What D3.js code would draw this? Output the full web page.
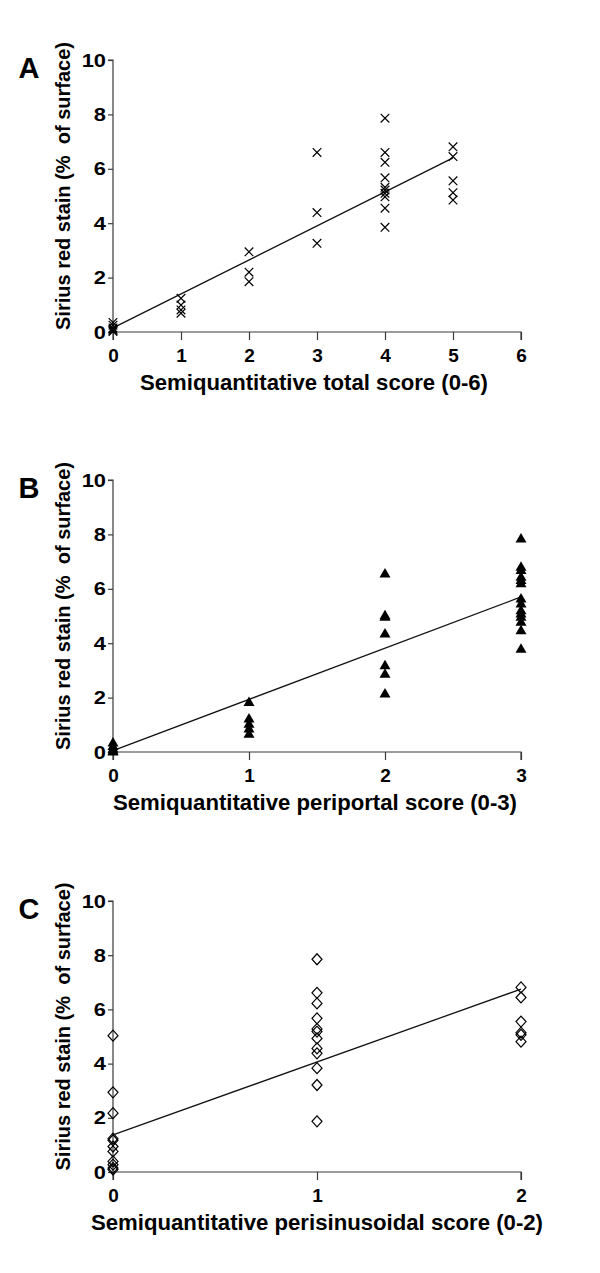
<!DOCTYPE html>
<html>
<head>
<meta charset="utf-8">
<script src="https://cdn.jsdelivr.net/npm/d3@7"></script>
<style>
  html, body { margin: 0; padding: 0; background: #fff; }
  svg { display: block; }
  text { font-family: "Liberation Sans", Arial, sans-serif; font-weight: bold; fill: #000; }
</style>
</head>
<body>
<svg id="chart" width="600" height="1273"></svg>
<script>
// ---------- DATA ----------
const yTicks = [0, 2, 4, 6, 8, 10];
const yTitle = "Sirius red stain (%\u00a0 of surface)";

// Panel A: total score
const aX = [0,0,0,0,0,0, 1,1,1,1, 2,2,2, 3,3,3, 4,4,4,4,4,4,4,4,4,4, 5,5,5,5,5];
const aY = [0.35,0.25,0.15,0.1,0.05,0.02, 1.24,0.99,0.81,0.69, 2.95,2.2,1.85, 6.6,4.39,3.26,
            7.86,6.6,6.24,5.67,5.32,5.22,5.1,4.97,4.55,3.85, 6.81,6.45,5.56,5.12,4.85];
const aTicks = [0,1,2,3,4,5,6];
const aLine = [[0, 0.15], [5, 6.4]];

// Panel B: periportal score
const bX = [0,0,0,0,0, 1,1,1,1,1, 2,2,2,2,2,2,2, 3,3,3,3,3,3,3,3,3,3,3,3,3,3];
const bY = [0.35,0.22,0.12,0.05,0.02, 1.84,1.23,1.04,0.86,0.67,
            6.56,5.03,4.97,4.36,3.19,2.88,2.15,
            7.85,6.81,6.69,6.44,6.32,6.2,5.64,5.46,5.21,5.09,4.97,4.79,4.48,3.8];
const bTicks = [0,1,2,3];
const bLine = [[0, 0.05], [3, 5.7]];

// Panel C: perisinusoidal score
const cX = [0,0,0,0,0,0,0,0,0,0,0, 1,1,1,1,1,1,1,1,1,1,1,1, 2,2,2,2,2,2];
const cY = [5.03,2.94,2.17,1.23,1.17,0.94,0.76,0.39,0.27,0.15,0.09,
            7.85,6.61,6.22,5.67,5.28,5.18,4.93,4.56,4.38,3.83,3.21,1.87,
            6.81,6.44,5.55,5.14,5.06,4.81];
const cTicks = [0,1,2];
const cLine = [[0, 1.37], [2, 6.75]];

// ---------- LAYOUT ----------
const panels = [
  {letter:"A", xs:aX, ys:aY, ticks:aTicks, line:aLine, xmax:6, marker:"x",
   title:"Semiquantitative total score (0-6)", tlen:348, tcx:314, top:60, bottom:332},
  {letter:"B", xs:bX, ys:bY, ticks:bTicks, line:bLine, xmax:3, marker:"tri",
   title:"Semiquantitative periportal score (0-3)", tlen:404, tcx:315, top:480, bottom:752},
  {letter:"C", xs:cX, ys:cY, ticks:cTicks, line:cLine, xmax:2, marker:"dia",
   title:"Semiquantitative perisinusoidal score (0-2)", tlen:452, tcx:317, top:901, bottom:1172}
];
const left = 113, right = 521;
const svg = d3.select("#chart");
const sx = 1.15;

panels.forEach(p => {
  const g = svg.append("g");
  const x = d3.scaleLinear().domain([0, p.xmax]).range([left, right]);
  const y = d3.scaleLinear().domain([0, 10]).range([p.bottom, p.top]);

  // y axis
  const ya = g.append("g").attr("transform", `translate(${left},0)`)
    .call(d3.axisLeft(y).tickValues(yTicks).tickFormat(d3.format("d")).tickSize(5).tickPadding(2));
  // x axis
  const xa = g.append("g").attr("transform", `translate(0,${p.bottom})`)
    .call(d3.axisBottom(x).tickValues(p.ticks).tickFormat(d3.format("d")).tickSize(8).tickPadding(9));
  [ya, xa].forEach(a => {
    a.select(".domain").attr("stroke", "#3a3a3a").attr("stroke-width", 1.2);
    a.selectAll(".tick line").attr("stroke", "#3a3a3a").attr("stroke-width", 1.2);
    a.selectAll(".tick text").style("font-family", '"Liberation Sans", Arial, sans-serif')
      .style("font-weight", "bold").style("font-size", "19px").attr("fill", "#000");
  });
  ya.selectAll(".tick text").attr("x", -7 / sx).attr("transform", `scale(${sx},1)`);
  ya.select(".domain").attr("d", `M-5,${p.top}H0V${p.bottom}`);
  xa.select(".domain").attr("d", `M${left},8V0H${right}V8`);

  // regression line
  g.append("path")
    .attr("d", d3.line().x(d => x(d[0])).y(d => y(d[1]))(p.line))
    .attr("fill", "none").attr("stroke", "#111").attr("stroke-width", 1.3);

  // markers
  const pts = p.xs.map((v, i) => [v, p.ys[i]]);
  const mg = g.append("g");
  if (p.marker === "x") {
    const s = 4.3;
    mg.selectAll("path").data(pts).join("path")
      .attr("d", d => { const cx = x(d[0]), cy = y(d[1]);
        return `M${cx-s},${cy-s}L${cx+s},${cy+s}M${cx-s},${cy+s}L${cx+s},${cy-s}`; })
      .attr("stroke", "#000").attr("stroke-width", 1.2).attr("fill", "none");
  } else if (p.marker === "tri") {
    mg.selectAll("path").data(pts).join("path")
      .attr("d", d => { const cx = x(d[0]), cy = y(d[1]);
        return `M${cx},${cy-5.5}L${cx+5.5},${cy+4}L${cx-5.5},${cy+4}Z`; })
      .attr("fill", "#000");
  } else {
    mg.selectAll("path").data(pts).join("path")
      .attr("d", d => { const cx = x(d[0]), cy = y(d[1]);
        return `M${cx},${cy-5.5}L${cx+5},${cy}L${cx},${cy+5.5}L${cx-5},${cy}Z`; })
      .attr("fill", "none").attr("stroke", "#000").attr("stroke-width", 1.2);
  }

  // axis titles
  g.append("text").attr("x", p.tcx).attr("y", p.bottom + 58)
    .attr("text-anchor", "middle").style("font-size", "22px")
    .attr("textLength", p.tlen).attr("lengthAdjust", "spacingAndGlyphs").text(p.title);
  g.append("text")
    .attr("transform", `translate(70,${(p.top + p.bottom) / 2 - 10}) rotate(-90)`)
    .attr("text-anchor", "middle").style("font-size", "21px")
    .attr("textLength", 288).attr("lengthAdjust", "spacingAndGlyphs").text(yTitle);
  // panel letter
  g.append("text").attr("x", 29).attr("y", p.top + 18)
    .attr("text-anchor", "middle").style("font-size", "29px").text(p.letter);
});
</script>
</body>
</html>
